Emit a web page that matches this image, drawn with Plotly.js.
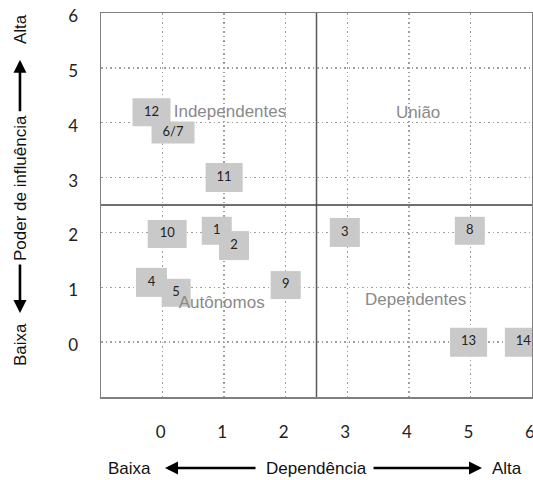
<!DOCTYPE html>
<html>
<head>
<meta charset="utf-8">
<script src="https://cdn.plot.ly/plotly-3.0.1.min.js"></script>
<style>html,body{margin:0;padding:0;background:#fff;}#chart{width:533px;height:480px;}</style>
</head>
<body>
<div id="chart"></div>
<script>
// ---- data ----
const labels = ['1','2','3','4','5','6/7','8','9','10','11','12','13','14'];
const dependencia = [0.88, 1.16, 2.96, -0.18, 0.22, 0.17, 4.99, 2.0, 0.075, 1.0, -0.18, 4.97, 5.86];
const influencia  = [2.03, 1.76, 2.0, 1.09, 0.9, 3.82, 2.03, 1.04, 1.97, 3.0, 4.19, 0.0, 0.0];
const quadLabels = ['Independentes','União','Autônomos','Dependentes'];
const quadX = [1.095, 4.15, 0.96, 4.11];
const quadY = [4.18, 4.16, 0.70, 0.75];
const tickValues = [0,1,2,3,4,5,6];
const tickText = ['0','1','2','3','4','5','6'];
const splitX = 2.5, splitY = 2.5;

// ---- styles ----
const boxW = [30, 30, 30, 31, 29, 43, 30, 30, 39, 37, 38, 37, 37];
const boxH = [28, 29, 29, 29, 28, 22, 28, 28, 28, 29, 28, 29, 29];
const boxColor = '#c9c9c9';
const sans = 'Liberation Sans, Arial, sans-serif';

const shapes = labels.map((l, i) => ({
  type:'rect', xref:'x', yref:'y', xsizemode:'pixel', ysizemode:'pixel',
  xanchor: dependencia[i], yanchor: influencia[i],
  x0: -boxW[i]/2, x1: boxW[i]/2, y0: -boxH[i]/2, y1: boxH[i]/2,
  fillcolor: boxColor, line:{width:0}, layer:'between'
}));
shapes.push({type:'line', xref:'x', yref:'paper', x0:splitX, x1:splitX, y0:0, y1:1, line:{color:'#595959', width:1.5}, layer:'between'});
shapes.push({type:'line', xref:'paper', yref:'y', x0:0, x1:1, y0:splitY, y1:splitY, line:{color:'#404040', width:1.5}, layer:'between'});

const traces = [
  {type:'scatter', mode:'text', x:dependencia, y:influencia, text:labels,
   textposition:'middle center', textfont:{family:'Lato, sans-serif', size:13, color:'#222'},
   hoverinfo:'none', cliponaxis:false},
  {type:'scatter', mode:'text', x:quadX, y:quadY, text:quadLabels,
   textposition:'middle center', textfont:{family:sans, size:17, color:'#8a8a8a'},
   hoverinfo:'none'}
];

const axBase = {
  range:[-1,6], tickvals:tickValues, ticktext:tickText, showgrid:true,
  gridcolor:'#a0a0a0', griddash:'1.5px,3px', gridwidth:1.5, zeroline:false,
  showline:true, mirror:true, linecolor:'#808080', linewidth:1.5, ticks:'',
  ticklabeloverflow:'allow',
  tickfont:{family:'Lato, sans-serif', size:17, color:'#222'}, fixedrange:true
};

function txt(t, x, y, angle){ return {xref:'paper', yref:'paper', x:x, y:y, text:t, showarrow:false,
  textangle:angle||0, font:{family:sans, size:17, color:'#111'}, xanchor:'center', yanchor:'middle'}; }
function arr(x, y, ax, ay){ return {xref:'paper', yref:'paper', x:x, y:y, ax:ax, ay:ay, text:'', showarrow:true,
  arrowhead:2, arrowsize:1, arrowwidth:2.6, arrowcolor:'#000', standoff:0, startstandoff:0}; }

const annotations = [
  txt('Baixa', 0.065, -0.185), arr(0.1485, -0.185, 92, 0),
  txt('Dependência', 0.501, -0.185), arr(0.884, -0.185, -110, 0),
  txt('Alta', 0.941, -0.185),
  txt('Alta', -0.188, 0.958, -90), arr(-0.188, 0.878, 0, 53),
  txt('Poder de influência', -0.188, 0.544, -90), arr(-0.188, 0.219, 0, -50),
  txt('Baixa', -0.188, 0.138, -90)
];

const layout = {
  width:533, height:480, margin:{l:101, r:1, t:13, b:83},
  paper_bgcolor:'#fff', plot_bgcolor:'#fff', showlegend:false,
  xaxis:Object.assign({}, axBase, {ticklabelstandoff:19, ticklabelshift:-2}),
  yaxis:Object.assign({}, axBase, {ticklabelstandoff:18, ticklabelshift:3}),
  shapes:shapes, annotations:annotations
};

Plotly.newPlot('chart', traces, layout, {displayModeBar:false, staticPlot:true});
</script>
</body>
</html>
